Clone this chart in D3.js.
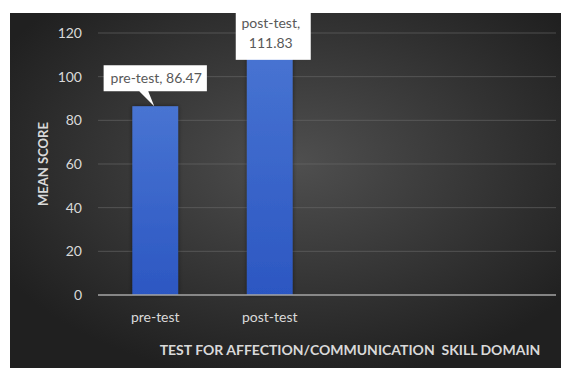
<!DOCTYPE html>
<meta charset="utf-8">
<script src="https://cdn.jsdelivr.net/npm/d3@7"></script>
<body style="margin:0;background:#fff;">
<svg width="561" height="368"></svg>
<style>
svg text { font-family: 'Lato', 'Open Sans', sans-serif; white-space: pre; }
</style>
<script>
    const CATEGORIES = ['pre-test', 'post-test'];
    const VALUES = [86.47, 111.83];
    const LABELS = [['pre-test, 86.47'], ['post-test,', '111.83']];
    const Y_TICKS = [0, 20, 40, 60, 80, 100, 120];
    const SLOTS = 4; // chart keeps room for 4 categories, only 2 used

    var svg = d3.select('svg');
    var W = 561, H = 368;
    var margin = {left: 98, right: 5, top: 33, bottom: 73};

    var defs = svg.append('defs');
    var bg = defs.append('radialGradient')
        .attr('id', 'bg').attr('cx', '52%').attr('cy', '42%').attr('r', '62%');
    bg.append('stop').attr('offset', '0%').attr('stop-color', '#4f4f4f');
    bg.append('stop').attr('offset', '100%').attr('stop-color', '#202020');

    var barGrad = defs.append('linearGradient')
        .attr('id', 'bar').attr('x1', 0).attr('x2', 0).attr('y1', 0).attr('y2', 1);
    barGrad.append('stop').attr('offset', '0%').attr('stop-color', '#4874d2');
    barGrad.append('stop').attr('offset', '100%').attr('stop-color', '#2c57c2');

    var shadow = defs.append('filter').attr('id', 'shadow')
        .attr('x', '-30%').attr('y', '-10%').attr('width', '160%').attr('height', '120%');
    shadow.append('feDropShadow').attr('dx', 0).attr('dy', 0)
        .attr('stdDeviation', 2).attr('flood-color', '#000').attr('flood-opacity', 0.5);

    // panel
    svg.append('rect')
        .attr('x', 10).attr('y', 13)
        .attr('width', W - 10).attr('height', H - 13)
        .attr('fill', 'url(#bg)');

    var x = d3.scaleBand()
        .domain(d3.range(SLOTS))
        .range([margin.left, W - margin.right])
        .paddingInner(0.6).paddingOuter(0.3);

    var y = d3.scaleLinear()
        .domain([0, 120])
        .range([H - margin.bottom, margin.top]);

    // grid
    svg.append('g').selectAll('line').data(Y_TICKS.filter(d => d > 0))
        .enter().append('line')
        .attr('x1', margin.left).attr('x2', W - margin.right)
        .attr('y1', d => y(d)).attr('y2', d => y(d))
        .attr('stroke', '#6a6a6a').attr('stroke-width', 1).attr('opacity', 0.6);

    // y tick labels
    svg.append('g').selectAll('text').data(Y_TICKS)
        .enter().append('text')
        .attr('x', 82).attr('y', d => y(d))
        .attr('dy', '0.35em')
        .attr('text-anchor', 'end')
        .attr('fill', '#d9d9d9')
        .attr('font-size', 14)
        .text(d => d);

    // bars
    svg.append('g').selectAll('rect').data(VALUES)
        .enter().append('rect')
        .attr('x', (d, i) => x(i))
        .attr('width', x.bandwidth())
        .attr('y', d => y(d))
        .attr('height', d => y(0) - y(d))
        .attr('fill', 'url(#bar)')
        .attr('filter', 'url(#shadow)');

    // zero axis
    svg.append('line')
        .attr('x1', margin.left).attr('x2', W - margin.right)
        .attr('y1', y(0)).attr('y2', y(0))
        .attr('stroke', '#a6a6a6').attr('stroke-width', 1.5);

    // x tick labels
    svg.append('g').selectAll('text').data(CATEGORIES)
        .enter().append('text')
        .attr('x', (d, i) => x(i) + x.bandwidth() / 2)
        .attr('y', y(0) + 27)
        .attr('text-anchor', 'middle')
        .attr('fill', '#d9d9d9')
        .attr('font-size', 14)
        .text(d => d);

    // axis titles
    svg.append('text')
        .attr('x', 350).attr('y', 355)
        .attr('text-anchor', 'middle')
        .attr('fill', '#d9d9d9')
        .attr('font-size', 14)
        .attr('font-weight', 'bold')
        .text('TEST FOR AFFECTION/COMMUNICATION  SKILL DOMAIN');

    svg.append('text')
        .attr('transform', 'translate(48,164) rotate(-90)')
        .attr('text-anchor', 'middle')
        .attr('fill', '#d9d9d9')
        .attr('font-size', 13)
        .attr('font-weight', 'bold')
        .text('MEAN SCORE');

    // data label callouts
    var labels = svg.append('g');
    VALUES.forEach(function(v, i){
        var cx = x(i) + x.bandwidth() / 2;
        var lines = LABELS[i];
        var g = labels.append('g');
        var t = g.append('text')
            .attr('text-anchor', 'middle')
            .attr('fill', '#595959')
            .attr('font-size', 14);
        lines.forEach(function(s, k){
            t.append('tspan').attr('x', cx + 1).attr('dy', k ? 20 : 0).text(s);
        });
        if (lines.length === 1) {
            // box above the bar with a pointer down to it
            var bottom = y(v) - 15, top = bottom - 26;
            var bw = t.node().getComputedTextLength() + 12;
            t.attr('y', bottom - 8);
            g.insert('path', 'text')
                .attr('d', 'M' + (cx - bw/2) + ',' + top + 'H' + (cx + bw/2) + 'V' + bottom
                    + 'H' + (cx - 7) + 'L' + (cx - 1) + ',' + y(v) + 'L' + (cx - 16) + ',' + bottom
                    + 'H' + (cx - bw/2) + 'Z')
                .attr('fill', '#fff');
        } else {
            // box sits on the top of the bar
            var bottom2 = y(v) + 9, top2 = bottom2 - 52;
            t.attr('y', top2 + 20);
            g.insert('rect', 'text')
                .attr('x', cx - 34).attr('width', 75)
                .attr('y', top2).attr('height', bottom2 - top2)
                .attr('fill', '#fff');
        }
    });
</script>
</body>
